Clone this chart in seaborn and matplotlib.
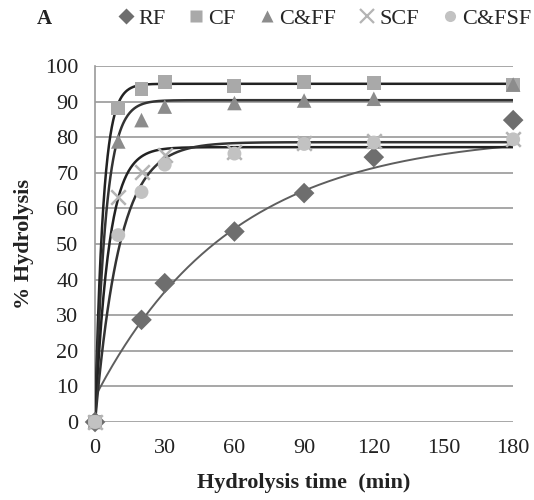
import numpy as np
import pandas as pd
import matplotlib
matplotlib.use("Agg")
import matplotlib.pyplot as plt
import seaborn as sns
from matplotlib.lines import Line2D

time_min = [0, 10, 20, 30, 60, 90, 120, 180]
rf = [0, None, 28.7, 39.0, 53.5, 64.3, 74.4, 84.8]
cf = [0, 88.2, 93.6, 95.5, 94.3, 95.6, 95.2, 94.7]
cff = [0, 78.8, 84.8, 88.6, 89.6, 90.3, 90.8, 94.8]
scf = [0, 63.2, 70.2, 75.0, 75.8, 78.3, 78.8, 79.4]
cfsf = [0, 52.5, 64.6, 72.3, 75.4, 78.1, 78.5, 79.4]

series_names = ["RF", "CF", "C&FF", "SCF", "C&FSF"]
series_vals = [rf, cf, cff, scf, cfsf]

# trend-line parameters (first order: offset + plateau*(1-exp(-rate*t)))
fit_offset = [7.0, 0.0, 0.0, 0.0, 0.0]
fit_plateau = [74.0, 95.0, 90.4, 77.2, 78.6]
fit_rate = [0.017, 0.285, 0.217, 0.169, 0.0946]

markers = {"RF": "D", "CF": "s", "C&FF": "^", "SCF": "x", "C&FSF": "o"}
colors = {"RF": "#6e6e6e", "CF": "#a9a9a9", "C&FF": "#8c8c8c", "SCF": "#b4b4b4", "C&FSF": "#c2c2c2"}
sizes = {"RF": 110, "CF": 100, "C&FF": 110, "SCF": 110, "C&FSF": 100}
curve_colors = {"RF": "#5e5e5e", "CF": "#222222", "C&FF": "#333333", "SCF": "#222222", "C&FSF": "#333333"}

rows = []
for name, vals in zip(series_names, series_vals):
    for t, v in zip(time_min, vals):
        if v is not None:
            rows.append({"time": t, "value": v, "series": name})
df = pd.DataFrame(rows)

t_fine = np.linspace(0, 180, 600)
curves = []
for name, c0, a, k in zip(series_names, fit_offset, fit_plateau, fit_rate):
    curves.append(pd.DataFrame({"time": t_fine, "value": c0 + a * (1 - np.exp(-k * t_fine)), "series": name}))
curve_df = pd.concat(curves)

sns.set_theme(style="white")
plt.rcParams["font.family"] = ["Liberation Serif", "DejaVu Serif"]

fig = plt.figure(figsize=(5.34, 5.0), dpi=100)
ax = fig.add_axes([0.178, 0.156, 0.783, 0.712])

for name in series_names:
    sns.lineplot(data=curve_df[curve_df["series"] == name], x="time", y="value",
                 color=curve_colors[name], lw=1.8 if name != "RF" else 1.4, ax=ax, zorder=3)

for name in series_names:
    sub = df[df["series"] == name]
    if markers[name] == "x":
        ax.scatter(sub["time"], sub["value"], marker="x", s=sizes[name], color=colors[name],
                   linewidths=1.8, zorder=4, clip_on=False)
    else:
        sns.scatterplot(data=sub, x="time", y="value", marker=markers[name], s=sizes[name],
                        color=colors[name], edgecolor="none", ax=ax, zorder=4, legend=False,
                        clip_on=False)

ax.set_xlim(0, 180)
ax.set_ylim(0, 100)
ax.set_xticks([0, 30, 60, 90, 120, 150, 180])
ax.set_yticks(range(0, 101, 10))
ax.yaxis.grid(True, color="#a0a0a0", lw=1.3)
ax.xaxis.grid(False)
ax.set_axisbelow(True)
for s in ["top", "right", "bottom"]:
    ax.spines[s].set_visible(False)
ax.spines["left"].set_color("#9a9a9a")
ax.spines["left"].set_linewidth(1.2)
ax.tick_params(axis="x", length=0, labelsize=16, colors="#222222", pad=12)
ax.tick_params(axis="y", length=0, labelsize=16, colors="#222222", pad=12)
ax.set_xlabel("Hydrolysis time  (min)", fontsize=16, fontweight="bold", color="#222222", labelpad=11)
ax.set_ylabel("% Hydrolysis", fontsize=16, fontweight="bold", color="#222222", labelpad=8)

fig.text(0.084, 0.962, "A", fontsize=15, fontweight="bold", ha="center", va="center", color="#222222")

handles = []
for name in series_names:
    if markers[name] == "x":
        h = Line2D([], [], marker="x", ls="none", color=colors[name], markersize=10, markeredgewidth=1.6)
    else:
        h = Line2D([], [], marker=markers[name], ls="none", color=colors[name],
                   markeredgecolor="none", markersize=8)
    handles.append(h)
fig.legend(handles, series_names, loc="center", bbox_to_anchor=(0.605, 0.962), ncol=5, frameon=False,
           prop={"size": 16}, handletextpad=0.05, columnspacing=0.9, handlelength=1.0, borderaxespad=0)

fig.savefig("out.png", dpi=100)
